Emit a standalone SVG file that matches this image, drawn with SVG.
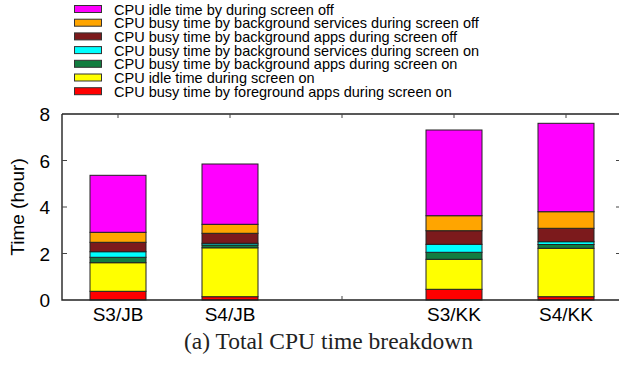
<svg xmlns="http://www.w3.org/2000/svg" width="619" height="376" viewBox="0 0 619 376">
  <style>
    .lg { font-family: "Liberation Sans", Arial, sans-serif; font-size: 14.5px; fill: #000; }
    .tk { font-family: "Liberation Sans", Arial, sans-serif; font-size: 19px; fill: #000; }
    .cap { font-family: "Liberation Serif", "Times New Roman", serif; font-size: 23.5px; fill: #222; }
    .seg { stroke: #222; stroke-width: 1; }
    .sw { stroke: #333; stroke-width: 1; }
    .axis { stroke: #222; stroke-width: 1.4; fill: none; }
    .tick { stroke: #444; stroke-width: 1; }
    .c1 { fill: #ff00ff; } /* idle, screen off */
    .c2 { fill: #ffa500; } /* bg services, screen off */
    .c3 { fill: #7c1a1c; } /* bg apps, screen off */
    .c4 { fill: #00ffff; } /* bg services, screen on */
    .c5 { fill: #127d40; } /* bg apps, screen on */
    .c6 { fill: #ffff00; } /* idle, screen on */
    .c7 { fill: #ff0000; } /* fg apps, screen on */
  </style>

  <!-- legend -->
  <g id="legend">
    <rect class="sw c1" x="74.5" y="5.5" width="27" height="7"/>
    <text class="lg" x="114" y="14.5">CPU idle time by during screen off</text>
    <rect class="sw c2" x="74.5" y="19.2" width="27" height="7"/>
    <text class="lg" x="114" y="28.2">CPU busy time by background services during screen off</text>
    <rect class="sw c3" x="74.5" y="32.9" width="27" height="7"/>
    <text class="lg" x="114" y="41.9">CPU busy time by background apps during screen off</text>
    <rect class="sw c4" x="74.5" y="46.6" width="27" height="7"/>
    <text class="lg" x="114" y="55.6">CPU busy time by background services during screen on</text>
    <rect class="sw c5" x="74.5" y="60.3" width="27" height="7"/>
    <text class="lg" x="114" y="69.3">CPU busy time by background apps during screen on</text>
    <rect class="sw c6" x="74.5" y="74" width="27" height="7"/>
    <text class="lg" x="114" y="83">CPU idle time during screen on</text>
    <rect class="sw c7" x="74.5" y="87.7" width="27" height="7"/>
    <text class="lg" x="114" y="96.7">CPU busy time by foreground apps during screen on</text>
  </g>

  <!-- stacked bars: y = 300 - hours * 23.25 -->
  <g id="bar-s3-jb">
    <rect class="seg c7" x="90" y="291.3" width="56" height="8.7"/>
    <rect class="seg c6" x="90" y="262.7" width="56" height="28.6"/>
    <rect class="seg c5" x="90" y="257.3" width="56" height="5.4"/>
    <rect class="seg c4" x="90" y="251.7" width="56" height="5.6"/>
    <rect class="seg c3" x="90" y="242.3" width="56" height="9.4"/>
    <rect class="seg c2" x="90" y="232.3" width="56" height="10"/>
    <rect class="seg c1" x="90" y="175.3" width="56" height="57"/>
  </g>
  <g id="bar-s4-jb">
    <rect class="seg c7" x="202" y="296.7" width="56" height="3.3"/>
    <rect class="seg c6" x="202" y="247.8" width="56" height="48.9"/>
    <rect class="seg c5" x="202" y="245" width="56" height="2.8"/>
    <rect class="seg c4" x="202" y="243.3" width="56" height="1.7"/>
    <rect class="seg c3" x="202" y="233.3" width="56" height="10"/>
    <rect class="seg c2" x="202" y="224.3" width="56" height="9"/>
    <rect class="seg c1" x="202" y="164" width="56" height="60.3"/>
  </g>
  <g id="bar-s3-kk">
    <rect class="seg c7" x="426" y="289.3" width="56" height="10.7"/>
    <rect class="seg c6" x="426" y="259.3" width="56" height="30"/>
    <rect class="seg c5" x="426" y="252.3" width="56" height="7"/>
    <rect class="seg c4" x="426" y="244.3" width="56" height="8"/>
    <rect class="seg c3" x="426" y="230.7" width="56" height="13.6"/>
    <rect class="seg c2" x="426" y="215.7" width="56" height="15"/>
    <rect class="seg c1" x="426" y="130" width="56" height="85.7"/>
  </g>
  <g id="bar-s4-kk">
    <rect class="seg c7" x="538" y="296.7" width="56" height="3.3"/>
    <rect class="seg c6" x="538" y="248.3" width="56" height="48.4"/>
    <rect class="seg c5" x="538" y="244.5" width="56" height="3.8"/>
    <rect class="seg c4" x="538" y="241.7" width="56" height="2.8"/>
    <rect class="seg c3" x="538" y="228.3" width="56" height="13.4"/>
    <rect class="seg c2" x="538" y="211.7" width="56" height="16.6"/>
    <rect class="seg c1" x="538" y="123.3" width="56" height="88.4"/>
  </g>

  <!-- axes and ticks -->
  <g id="axes">
    <path class="axis" d="M62,114 H619 M62,114 V300 H619"/>
    <path class="tick" d="M62,160.5 h5 M62,207 h5 M62,253.5 h5 M616,160.5 h3 M616,207 h3 M616,253.5 h3"/>
    <path class="tick" d="M118,114 v4 M230,114 v4 M342,114 v4 M454,114 v4 M566,114 v4 M342,300 v-4"/>
  </g>

  <g id="y-labels" class="tk">
    <text x="50" y="307" text-anchor="end">0</text>
    <text x="50" y="260.5" text-anchor="end">2</text>
    <text x="50" y="214" text-anchor="end">4</text>
    <text x="50" y="167.5" text-anchor="end">6</text>
    <text x="50" y="121" text-anchor="end">8</text>
    <text transform="translate(24,207) rotate(-90)" text-anchor="middle">Time (hour)</text>
  </g>

  <g id="x-labels" class="tk" text-anchor="middle">
    <text x="118" y="321">S3/JB</text>
    <text x="230" y="321">S4/JB</text>
    <text x="454" y="321">S3/KK</text>
    <text x="566" y="321">S4/KK</text>
  </g>

  <text class="cap" x="328.5" y="349" text-anchor="middle">(a) Total CPU time breakdown</text>
</svg>
